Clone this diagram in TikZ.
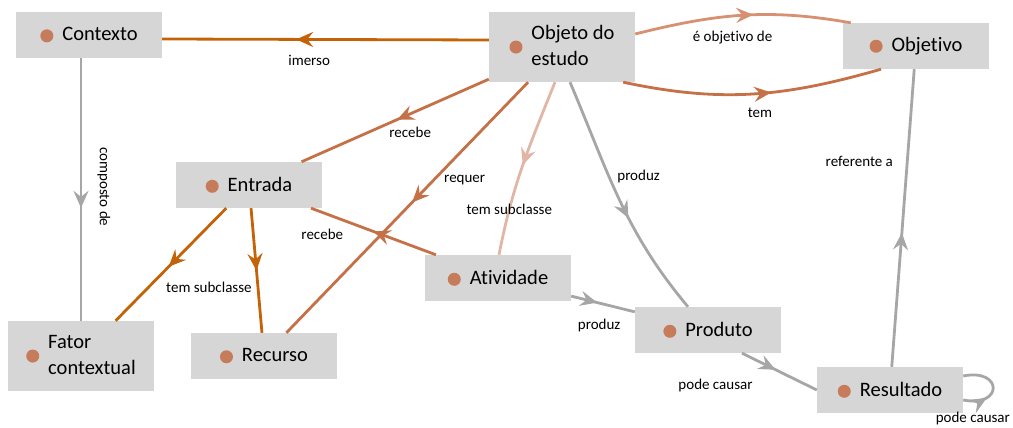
\documentclass[tikz,border=0pt]{standalone}
\usepackage{fontspec}
\setmainfont{Carlito}[Ligatures={NoCommon,NoDiscretionary}]
\usetikzlibrary{positioning,
	arrows.meta,
	decorations.markings}

\definecolor{boxgray}{RGB}{214,214,214}
\definecolor{dotc}{RGB}{198,124,90}
\definecolor{dkorange}{RGB}{196,98,8}
\definecolor{mdorange}{RGB}{197,112,70}
\definecolor{ltorange}{RGB}{214,145,115}
\definecolor{pkorange}{RGB}{226,182,166}
\definecolor{grayc}{RGB}{166,166,166}

\newcommand{\conceptdot}{\tikz[baseline=-0.25em]\fill[dotc] (0,0) circle (6.5pt);\hspace{9pt}}

\tikzset{
	concept/.style={fill=boxgray, minimum width=146pt, minimum height=46pt,
			inner sep=0pt, font=\fontsize{20.5}{26}\selectfont},
	tall/.style={minimum height=70pt},
	lbl/.style={font=\fontsize{15}{18}\selectfont, inner sep=1pt, text=black},
	link/.style={line width=2.8pt},
	midarrow/.style={
			postaction={decorate},
			decoration={
					markings,
					mark=at position #1 with {\arrow{Stealth[length=17pt,width=15pt,inset=6pt]}}
				}
		}
}

\begin{document}
\begin{tikzpicture}[x=1pt, y=1pt]
            \useasboundingbox (0,0) rectangle (1013,428);
            \node[concept] (contexto) at (89,393) {\conceptdot Contexto};
            \node[concept, tall] (objeto) at (562,381) {\conceptdot\begin{tabular}{@{}l@{}}Objeto do\\estudo\end{tabular}};
            \node[concept] (objetivo) at (916,382) {\conceptdot Objetivo};
            \node[concept] (entrada) at (249,243) {\conceptdot Entrada};
            \node[concept] (atividade) at (498,150) {\conceptdot Atividade};
            \node[concept, tall] (fator) at (81,72) {\conceptdot\begin{tabular}{@{}l@{}}Fator\\contextual\end{tabular}};
            \node[concept] (recurso) at (264,72) {\conceptdot Recurso};
            \node[concept] (produto) at (708,98) {\conceptdot Produto};
            \node[concept] (resultado) at (890,38) {\conceptdot Resultado};

            \draw[link, dkorange, midarrow=0.59] ([yshift=7pt]objeto.west) -- node [lbl, below=13pt, pos=0.55] {imerso} ([yshift=-4pt]contexto.east);
            \draw[link, grayc, midarrow=0.57] (contexto.south -| fator.north) -- node [lbl, sloped, above=14pt, pos=0.49] {composto de} (fator.north);
            \draw[link, mdorange, midarrow=0.49] (objeto) -- node [lbl, below=11pt, pos=0.42] {recebe} (entrada);
            \draw[link, mdorange, midarrow=0.48] (objeto) -- node [lbl, right=8pt, pos=0.39] {requer} (recurso);
            \draw[link, pkorange, midarrow=0.49] ([xshift=-7pt]objeto.south) to [out=248, in=79]
                node [lbl, pos=0.76] {tem subclasse} ([xshift=1pt]atividade.north);
            \draw[link, grayc, midarrow=0.58] ([xshift=8pt]objeto.south) to [out=293, in=130]
                node [lbl, right=6pt, pos=0.39] {produz} ([xshift=-20pt]produto.north);
            \draw[link, ltorange, midarrow=0.55] ([yshift=13pt]objeto.east) to [out=14, in=170]
                node [lbl, below=13pt, pos=0.45] {é objetivo de} ([xshift=8pt]objetivo.north west);
            \draw[link, mdorange, midarrow=0.57] ([xshift=-12pt]objeto.south east) to [out=-12, in=196]
                node [lbl, below=12pt, pos=0.53] {tem} ([xshift=-35pt]objetivo.south);
            \draw[link, mdorange, midarrow=0.5] (atividade) -- node [lbl, below=14pt, pos=0.91] {recebe} (entrada);
            \draw[link, dkorange, midarrow=0.52] (entrada) -- node [lbl, right=15pt, pos=0.7] {tem subclasse} (fator);
            \draw[link, dkorange, midarrow=0.5] (entrada) -- (recurso);
            \draw[link, grayc, midarrow=0.41] (atividade) -- node [lbl, below=14pt, pos=0.44] {produz} (produto);
            \draw[link, grayc, midarrow=0.45] ([xshift=34pt]produto.south) -- node [lbl, below left=16pt and 2pt, pos=0.2] {pode causar} (resultado.west);
            \draw[link, grayc, midarrow=0.45] (resultado) -- node [lbl, left=12pt, pos=0.69] {referente a} (objetivo);
            \draw[link, grayc, midarrow=0.33] ([yshift=-10pt]resultado.east) .. controls +(40,-8) and +(40,8) ..
                node [lbl, below=9pt, pos=0.12, xshift=-3pt] {pode causar} ([yshift=14pt]resultado.east);
\end{tikzpicture}
\end{document}
